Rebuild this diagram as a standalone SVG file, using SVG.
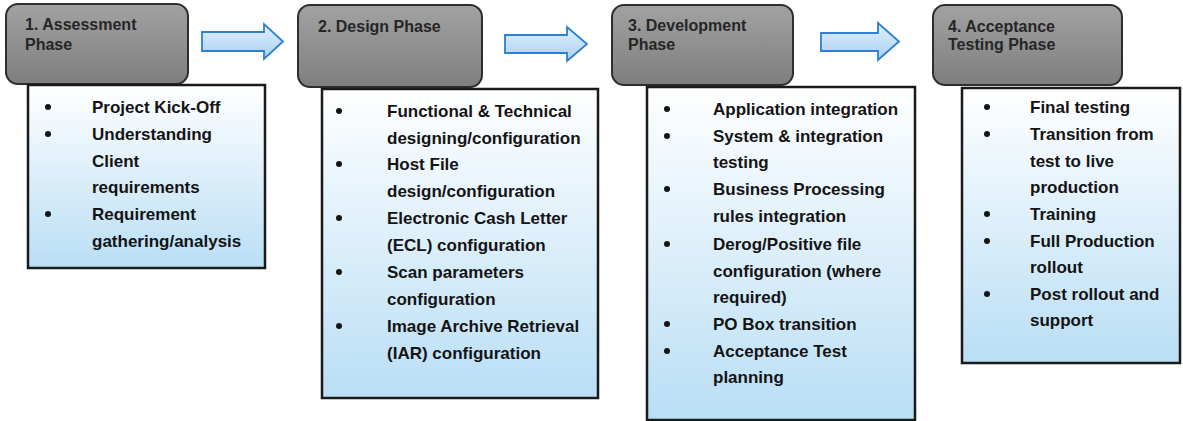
<svg xmlns="http://www.w3.org/2000/svg" width="1183" height="421" viewBox="0 0 1183 421">
<defs>
<linearGradient id="hdr" x1="0" y1="0" x2="0" y2="1">
<stop offset="0" stop-color="#a2a2a2"/>
<stop offset="1" stop-color="#7e7e7e"/>
</linearGradient>
<linearGradient id="bdy" x1="0" y1="0" x2="0" y2="1">
<stop offset="0" stop-color="#ffffff"/>
<stop offset="1" stop-color="#b9def5"/>
</linearGradient>
<linearGradient id="arr" x1="0" y1="0" x2="0" y2="1">
<stop offset="0" stop-color="#e2f0fc"/>
<stop offset="1" stop-color="#a9d0f2"/>
</linearGradient>
</defs>
<style>
.hdr{fill:url(#hdr);stroke:#2e2e2e;stroke-width:2}
.bdy{fill:url(#bdy);stroke:#1a1a1a;stroke-width:2.5}
.ht{font-family:"Liberation Sans",Arial,sans-serif;font-weight:bold;font-size:16px;fill:#262626}
.bt{font-family:"Liberation Sans",Arial,sans-serif;font-weight:bold;font-size:17px;fill:#141414}
.dot{fill:#141414}
.arrow{fill:url(#arr);stroke:#2d7fd2;stroke-width:1.8;stroke-linejoin:miter}
</style>
<rect width="1183" height="421" fill="#ffffff"/>

<g id="connectors">
<path class="arrow" d="M202,32 H264 V24 L283,41.5 L264,59 V51 H202 Z"/>
<path class="arrow" d="M505,35 H567 V27 L587,44 L567,61 V53 H505 Z"/>
<path class="arrow" d="M821,33 H878 V23 L899,41.5 L878,60 V51 H821 Z"/>
</g>

<g id="phase1">
<rect class="hdr" x="6" y="4" width="182" height="80" rx="12"/>
<text class="ht" x="25" y="30">1. Assessment</text>
<text class="ht" x="25" y="50">Phase</text>
<rect class="bdy" x="28" y="85" width="237" height="183"/>
<circle class="dot" cx="48" cy="107" r="3"/>
<circle class="dot" cx="48" cy="134" r="3"/>
<circle class="dot" cx="48" cy="214" r="3"/>
<text class="bt" x="92" y="113">Project Kick-Off</text>
<text class="bt" x="92" y="140">Understanding</text>
<text class="bt" x="92" y="167">Client</text>
<text class="bt" x="92" y="193">requirements</text>
<text class="bt" x="92" y="220">Requirement</text>
<text class="bt" x="92" y="247">gathering/analysis</text>
</g>

<g id="phase2">
<rect class="hdr" x="298" y="5" width="184" height="82" rx="12"/>
<text class="ht" x="318" y="32">2. Design Phase</text>
<rect class="bdy" x="322" y="89" width="276" height="309"/>
<circle class="dot" cx="339" cy="111" r="3"/>
<circle class="dot" cx="339" cy="164" r="3"/>
<circle class="dot" cx="339" cy="218" r="3"/>
<circle class="dot" cx="339" cy="272" r="3"/>
<circle class="dot" cx="339" cy="326" r="3"/>
<text class="bt" x="387" y="117">Functional &amp; Technical</text>
<text class="bt" x="387" y="144">designing/configuration</text>
<text class="bt" x="387" y="170">Host File</text>
<text class="bt" x="387" y="197">design/configuration</text>
<text class="bt" x="387" y="224">Electronic Cash Letter</text>
<text class="bt" x="387" y="251">(ECL) configuration</text>
<text class="bt" x="387" y="278">Scan parameters</text>
<text class="bt" x="387" y="305">configuration</text>
<text class="bt" x="387" y="332">Image Archive Retrieval</text>
<text class="bt" x="387" y="359">(IAR) configuration</text>
</g>

<g id="phase3">
<rect class="hdr" x="612" y="5" width="181" height="80" rx="12"/>
<text class="ht" x="628" y="31">3. Development</text>
<text class="ht" x="628" y="50">Phase</text>
<rect class="bdy" x="647" y="87" width="268" height="333"/>
<circle class="dot" cx="667" cy="109" r="3"/>
<circle class="dot" cx="667" cy="136" r="3"/>
<circle class="dot" cx="667" cy="189" r="3"/>
<circle class="dot" cx="667" cy="244" r="3"/>
<circle class="dot" cx="667" cy="324" r="3"/>
<circle class="dot" cx="667" cy="351" r="3"/>
<text class="bt" x="713" y="115">Application integration</text>
<text class="bt" x="713" y="142">System &amp; integration</text>
<text class="bt" x="713" y="168">testing</text>
<text class="bt" x="713" y="195">Business Processing</text>
<text class="bt" x="713" y="222">rules integration</text>
<text class="bt" x="713" y="250">Derog/Positive file</text>
<text class="bt" x="713" y="277">configuration (where</text>
<text class="bt" x="713" y="303">required)</text>
<text class="bt" x="713" y="330">PO Box transition</text>
<text class="bt" x="713" y="357">Acceptance Test</text>
<text class="bt" x="713" y="383">planning</text>
</g>

<g id="phase4">
<rect class="hdr" x="933" y="5" width="189" height="80" rx="12"/>
<text class="ht" x="948" y="32">4. Acceptance</text>
<text class="ht" x="948" y="50">Testing Phase</text>
<rect class="bdy" x="962" y="88" width="218" height="275"/>
<circle class="dot" cx="987" cy="107" r="3"/>
<circle class="dot" cx="987" cy="134" r="3"/>
<circle class="dot" cx="987" cy="214" r="3"/>
<circle class="dot" cx="987" cy="241" r="3"/>
<circle class="dot" cx="987" cy="294" r="3"/>
<text class="bt" x="1030" y="113">Final testing</text>
<text class="bt" x="1030" y="140">Transition from</text>
<text class="bt" x="1030" y="167">test to live</text>
<text class="bt" x="1030" y="193">production</text>
<text class="bt" x="1030" y="220">Training</text>
<text class="bt" x="1030" y="247">Full Production</text>
<text class="bt" x="1030" y="273">rollout</text>
<text class="bt" x="1030" y="300">Post rollout and</text>
<text class="bt" x="1030" y="326">support</text>
</g>
</svg>
